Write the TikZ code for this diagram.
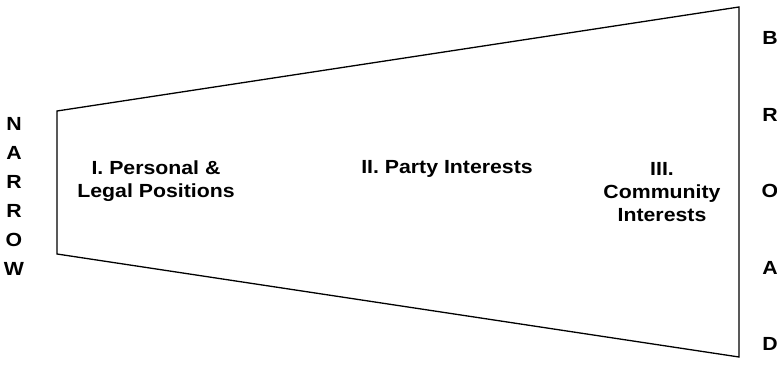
\documentclass[tikz,border=0pt]{standalone}
\usepackage{fontspec}
\setmainfont{Liberation Sans}[FakeStretch=1.12]
\usetikzlibrary{positioning}

\begin{document}
\begin{tikzpicture}[x=1pt,y=-1pt,
  lbl/.style={font=\fontsize{19}{23}\selectfont\bfseries,align=center,inner sep=0pt},
  ltr/.style={font=\fontsize{19}{23}\selectfont\bfseries,inner sep=0pt}]
  \useasboundingbox (0,0) rectangle (777,390);
  \draw[line width=1.3pt,line join=miter] (57,111)--(739,7)--(739,357)--(57,254)--cycle; %台形
  \node[lbl] (personal) at (156,181) {I. Personal \&\\Legal Positions};
  \node[lbl] (party) at (447,169) {II. Party Interests};
  \node[lbl] (community) at (662,192) {III.\\Community\\Interests};
  % 左: NARROW
  \foreach \c [count=\i from 0] in {N,A,R,R,O,W}
    \node[ltr] (narrow\i) at (14,{124+29*\i}) {\c};
  % 右: BROAD
  \foreach \c [count=\i from 0] in {B,R,O,A,D}
    \node[ltr] (broad\i) at (770,{38+76.5*\i}) {\c};
\end{tikzpicture}
\end{document}
